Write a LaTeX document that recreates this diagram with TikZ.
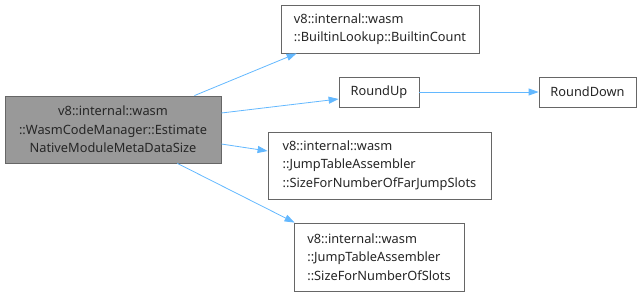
\documentclass[tikz,border=0pt]{standalone}
\usepackage{fontspec}
\setmainfont{Noto Sans}
\usetikzlibrary{arrows.meta}
\begin{document}
\begin{tikzpicture}[x=1pt,y=-1pt,
  fn/.style={draw=black!60, fill=white, line width=0.8pt, inner sep=0pt,
    font=\fontsize{12.8}{18.5}\selectfont, text=black!85, align=left},
  fnmain/.style={fn, fill=black!40, align=center},
  call/.style={draw=edgeblue, line width=0.8pt,
    -{Triangle[length=10pt,width=7pt,fill=edgeblue]}}]
\definecolor{edgeblue}{HTML}{63B8FF}
\useasboundingbox (0,0) rectangle (642,297);

% functions
\node[fnmain, minimum width=216pt, minimum height=67pt] (main) at (113,129.5)
  {v8::internal::wasm\\::WasmCodeManager::Estimate\\NativeModuleMetaDataSize};
\node[fn, minimum width=198pt, minimum height=48pt] (bc) at (380,29)
  {v8::internal::wasm\\::BuiltinLookup::BuiltinCount};
\node[fn, minimum width=80pt, minimum height=30pt] (ru) at (379,92) {RoundUp};
\node[fn, minimum width=97pt, minimum height=30pt] (rd) at (587.5,92) {RoundDown};
\node[fn, minimum width=223pt, minimum height=67pt] (far) at (379.5,165.5)
  {v8::internal::wasm\\::JumpTableAssembler\\::SizeForNumberOfFarJumpSlots};
\node[fn, minimum width=170pt, minimum height=68pt] (slots) at (379,257)
  {v8::internal::wasm\\::JumpTableAssembler\\::SizeForNumberOfSlots};

% calls
\draw[call] ([xshift=-27pt]main.north east) -- ([xshift=16pt]bc.south west);
\draw[call] ([yshift=16.5pt]main.east) -- ([yshift=-7pt]ru.west);
\draw[call] ([yshift=-14.5pt]main.east) -- ([yshift=14.5pt]far.west);
\draw[call] ([xshift=-44pt]main.south east) -- ([xshift=1pt]slots.north west);
\draw[call] (ru.east) -- (rd.west);
\end{tikzpicture}
\end{document}
